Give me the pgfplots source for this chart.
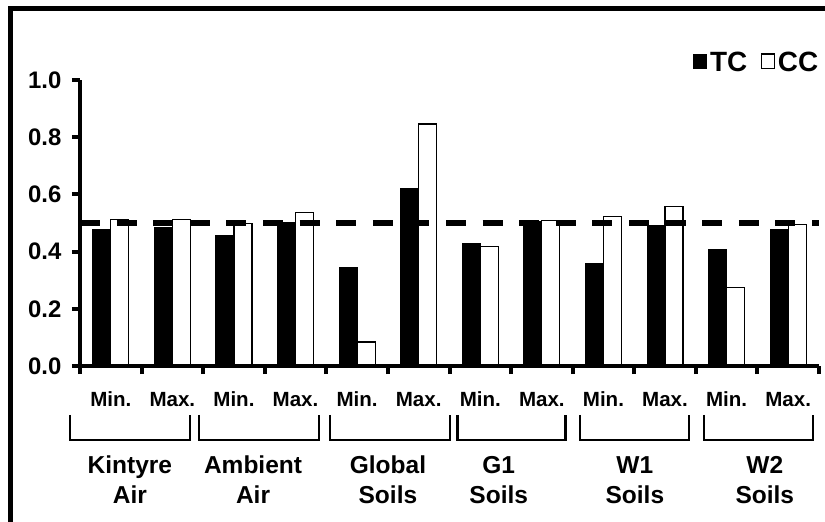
\documentclass[border=0pt]{standalone}
\usepackage{fontspec}
\setmainfont{Liberation Sans}
\usepackage{pgfplots}
\pgfplotsset{compat=1.18}

\begin{document}
\begin{tikzpicture}
\useasboundingbox (0,0) rectangle (412.5bp,261bp);
% outer frame (right and bottom edges fall outside the picture)
\draw[line width=2.5bp] (5bp,-10bp) -- (5bp,256.5bp) -- (430bp,256.5bp);

\begin{axis}[
    at={(40bp,78bp)}, anchor=south west,
    scale only axis, width=369.5bp, height=143bp,
    xmin=0.5, xmax=12.5, ymin=0, ymax=1,
    clip=false, axis on top,
    axis x line*=bottom, axis y line*=left,
    axis line style={line width=2bp},
    ybar=0pt, bar width=9bp,
    tick align=outside,
    major tick length=4bp,
    major x tick style={/pgfplots/major tick length=4bp},
    xtick style={line width=2bp, black},
    ytick style={line width=2bp, black},
    xtick={0.5,1.5,2.5,3.5,4.5,5.5,6.5,7.5,8.5,9.5,10.5,11.5,12.5},
    xticklabel=\empty,
    ytick={0,0.2,0.4,0.6,0.8,1},
    /pgf/number format/assume math mode=true,
    yticklabel style={font=\bfseries\fontsize{12}{14}\selectfont,
        /pgf/number format/fixed, /pgf/number format/fixed zerofill,
        /pgf/number format/precision=1, xshift=-1.8bp},
    legend image code/.code={\draw[#1] (0bp,-0.27em) rectangle (0.63em,0.44em);},
    legend style={draw=none, fill=none, inner sep=0pt, outer sep=0pt,
        at={(1.003,1.11)}, anchor=north east,
        font=\bfseries\fontsize{14}{16}\selectfont,
        legend columns=2,
        nodes={inner sep=1.5bp},
        /tikz/every even column/.append style={column sep=5.5bp}},
]
\addplot[fill=black, draw=black, line width=0.5bp] coordinates {
    (1,0.478) (2,0.484) (3,0.455) (4,0.501) (5,0.345) (6,0.619)
    (7,0.427) (8,0.506) (9,0.359) (10,0.492) (11,0.409) (12,0.478)};
\addplot[fill=white, draw=black, line width=0.6bp] coordinates {
    (1,0.513) (2,0.513) (3,0.499) (4,0.537) (5,0.084) (6,0.846)
    (7,0.417) (8,0.509) (9,0.522) (10,0.557) (11,0.275) (12,0.494)};
\legend{TC,CC}
\addplot[sharp plot, forget plot, line width=2.8bp, dash pattern=on 10bp off 8.3bp]
    coordinates {(0.5,0.5) (12.5,0.5)};

% Min./Max. under each category
\begin{scope}[every node/.style={anchor=base, inner sep=0pt, font=\bfseries\fontsize{10.3}{12}\selectfont}]
\node at (axis cs:1,-0.142) {Min.};  \node at (axis cs:2,-0.142) {Max.};
\node at (axis cs:3,-0.142) {Min.};  \node at (axis cs:4,-0.142) {Max.};
\node at (axis cs:5,-0.142) {Min.};  \node at (axis cs:6,-0.142) {Max.};
\node at (axis cs:7,-0.142) {Min.};  \node at (axis cs:8,-0.142) {Max.};
\node at (axis cs:9,-0.142) {Min.};  \node at (axis cs:10,-0.142) {Max.};
\node at (axis cs:11,-0.142) {Min.}; \node at (axis cs:12,-0.142) {Max.};
\end{scope}

% group brackets
\draw[line width=1.3bp] (axis cs:0.338,-0.171) |- (axis cs:2.286,-0.259) -- (axis cs:2.286,-0.171);
\draw[line width=1.3bp] (axis cs:2.432,-0.171) |- (axis cs:4.380,-0.259) -- (axis cs:4.380,-0.171);
\draw[line width=1.3bp] (axis cs:4.558,-0.171) |- (axis cs:6.506,-0.259) -- (axis cs:6.506,-0.171);
\draw[line width=1.3bp] (axis cs:6.631,-0.171) |- (axis cs:8.385,-0.259) -- (axis cs:8.385,-0.171);
\draw[line width=1.3bp] (axis cs:8.617,-0.171) |- (axis cs:10.386,-0.259) -- (axis cs:10.386,-0.171);
\draw[line width=1.3bp] (axis cs:10.63,-0.171) |- (axis cs:12.40,-0.259) -- (axis cs:12.40,-0.171);

% group labels
\begin{scope}[every node/.style={anchor=base, inner sep=0pt, font=\bfseries\fontsize{12.3}{14}\selectfont}]
\node at (axis cs:1.31,-0.375) {Kintyre};  \node at (axis cs:1.31,-0.480) {Air};
\node at (axis cs:3.31,-0.375) {Ambient};  \node at (axis cs:3.31,-0.480) {Air};
\node at (axis cs:5.50,-0.375) {Global};   \node at (axis cs:5.50,-0.480) {Soils};
\node at (axis cs:7.30,-0.375) {G1};       \node at (axis cs:7.30,-0.480) {Soils};
\node at (axis cs:9.51,-0.375) {W1};       \node at (axis cs:9.51,-0.480) {Soils};
\node at (axis cs:11.62,-0.375) {W2};      \node at (axis cs:11.62,-0.480) {Soils};
\end{scope}
\end{axis}
\end{tikzpicture}
\end{document}
